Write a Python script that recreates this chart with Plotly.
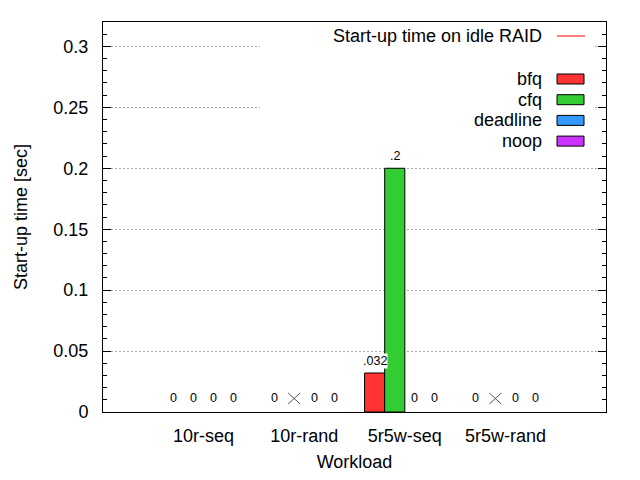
import plotly.graph_objects as go

categories = ["10r-seq", "10r-rand", "5r5w-seq", "5r5w-rand"]
schedulers = ["bfq", "cfq", "deadline", "noop"]
bfq = [0, 0, 0.032, 0]
cfq = [0, None, 0.2, None]
deadline = [0, 0, 0, 0]
noop = [0, 0, 0, 0]
value_labels = {
    "bfq": ["0", "0", ".032", "0"],
    "cfq": ["0", "X", ".2", "X"],
    "deadline": ["0", "0", "0", "0"],
    "noop": ["0", "0", "0", "0"],
}
series = [bfq, cfq, deadline, noop]
colors = ["#ff3333", "#33cc33", "#3399ff", "#cc33ff"]
idle_label = "Start-up time on idle RAID"

FONT = "Liberation Sans, Arial, sans-serif"
FS = 18

fig = go.Figure()
xs = list(range(len(categories)))
for name, vals, col in zip(schedulers, series, colors):
    yv = [v if v is not None else 0 for v in vals]
    fig.add_trace(go.Bar(
        x=xs, y=yv, name=name,
        marker=dict(color=col, line=dict(color="black", width=[1 if v else 0 for v in yv])),
        showlegend=False,
    ))

# value labels
nser = len(schedulers)
bw = 0.8 / nser
for j, name in enumerate(schedulers):
    for i, lab in enumerate(value_labels[name]):
        xpos = i + (j - (nser - 1) / 2) * bw
        val = series[j][i] or 0
        if lab == "X":
            for (a, b) in [((-6, 8), (6, 19)), ((-6, 19), (6, 8))]:
                fig.add_shape(type="line", xref="x", yref="y",
                              xsizemode="pixel", ysizemode="pixel",
                              xanchor=xpos, yanchor=0,
                              x0=a[0], y0=a[1], x1=b[0], y1=b[1],
                              line=dict(color="#555555", width=1), layer="above")
            continue
        fig.add_annotation(
            x=xpos, y=val, text=lab, showarrow=False,
            yanchor="middle", yshift=14 if val == 0 else 12,
            font=dict(family=FONT, size=12.5, color="black"),
            bgcolor="white" if val != 0 else None,
            borderpad=0,
        )

# opaque key box masking the grid
def px_x(px):
    return (px - 103) / 503

def px_y(py):
    return (412 - py) / 390

fig.add_shape(type="rect", xref="paper", yref="paper",
              x0=px_x(260), x1=px_x(595), y0=px_y(152), y1=px_y(24),
              fillcolor="white", line=dict(width=0), layer="above")

# manual legend (gnuplot style: text then sample on the right)
fig.add_annotation(xref="paper", yref="paper", x=px_x(544), y=px_y(36),
                   text=idle_label, showarrow=False, xanchor="right", yanchor="middle",
                   font=dict(family=FONT, size=FS, color="black"))
fig.add_shape(type="line", xref="paper", yref="paper",
              x0=px_x(557), x1=px_x(585), y0=px_y(36), y1=px_y(36),
              line=dict(color="#ff0000", width=1), layer="above")
for k, (name, col) in enumerate(zip(schedulers, colors)):
    cy = 79 + k * 20.7
    fig.add_annotation(xref="paper", yref="paper", x=px_x(544), y=px_y(cy),
                       text=name, showarrow=False, xanchor="right", yanchor="middle",
                       font=dict(family=FONT, size=FS, color="black"))
    fig.add_shape(type="rect", xref="paper", yref="paper",
                  x0=px_x(557), x1=px_x(584), y0=px_y(cy - 5), y1=px_y(cy + 5),
                  fillcolor=col, line=dict(color="black", width=1), layer="above")

fig.update_layout(
    width=640, height=480,
    margin=dict(l=103, r=34, t=22, b=68, autoexpand=False),
    paper_bgcolor="white", plot_bgcolor="white",
    barmode="group", bargap=0.2, bargroupgap=0,
    font=dict(family=FONT, size=FS, color="black"),
    showlegend=False,
)
fig.update_xaxes(
    range=[-1, 4], tickvals=xs, ticktext=categories,
    showline=True, linecolor="black", linewidth=1, mirror=True,
    ticks="", showgrid=False, zeroline=False, automargin=False,
    ticklabelstandoff=7,
    title=dict(text="Workload", font=dict(size=FS), standoff=10),
    tickfont=dict(size=FS),
)
fig.update_yaxes(
    range=[0, 0.32], dtick=0.05, tick0=0,
    showline=True, linecolor="black", linewidth=1, mirror="allticks",
    ticks="inside", ticklen=8, tickcolor="black",
    minor=dict(dtick=0.01, ticks="inside", ticklen=4, tickcolor="black", showgrid=False),
    showgrid=True, gridcolor="#a8a8a8", gridwidth=1, griddash="2px,2px",
    zeroline=False, automargin=False,
    ticklabelstandoff=10,
    title=dict(text="Start-up time [sec]", font=dict(size=FS), standoff=21),
    tickfont=dict(size=FS),
)

fig.write_html("out.html")
